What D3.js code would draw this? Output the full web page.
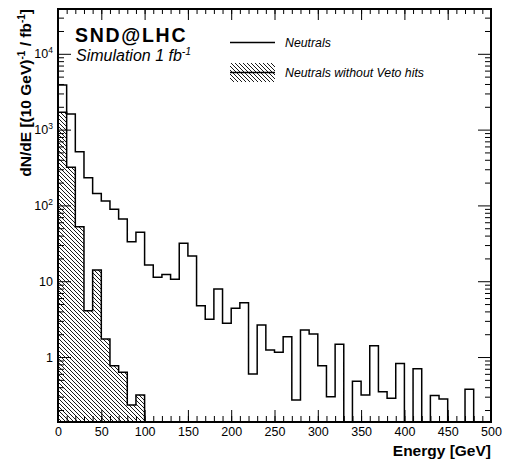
<!DOCTYPE html>
<html><head><meta charset="utf-8">
<script src="https://cdn.jsdelivr.net/npm/d3@7"></script>
<style>
html,body{margin:0;padding:0;background:#fff;}
svg{display:block;font-family:"Liberation Sans",Arial,Helvetica,sans-serif;}
</style></head>
<body>
<script>
// ---- data (10 GeV bins, 0..500 GeV) ----
const binEdgesStart = d3.range(0, 500, 10);
const neutrals = [3870,1607,511,232,144,114,89,66,33.2,44.2,
                  16.4,11.3,12.3,10.6,31.6,21.5,4.75,3.14,7.9,2.78,
                  4.39,5.2,0.597,2.64,1.24,1.16,1.85,0.271,2.27,2.01,
                  0.77,0.30,1.47,0,0.48,0.315,1.41,0.349,0.285,0.82,
                  0,0.70,0,0.31,0.279,0,0,0.375,0,0];
const neutralsNoVeto = [1690,318,52.4,4.08,14.1,1.73,0.77,0.63,0.233,0.315,
                  0,0,0,0,0,0,0,0,0,0, 0,0,0,0,0,0,0,0,0,0,
                  0,0,0,0,0,0,0,0,0,0, 0,0,0,0,0,0,0,0,0,0];
const xMajorTicks = [0,50,100,150,200,250,300,350,400,450,500];
const xMinorTicks = d3.range(0, 501, 10);
const yMajorTicks = [1,10,100,1000,10000];
const yTickLabels = [["1",""],["10",""],["10","2"],["10","3"],["10","4"]];
const legendLabels = ["Neutrals","Neutrals without Veto hits"];

const W = 506, H = 463;
const L = 58, R = 491, T = 9, B = 422;
const svg = d3.select("body").append("svg").attr("width", W).attr("height", H);

const x = d3.scaleLinear().domain([0, 500]).range([L, R]);
const y = d3.scaleLog().domain([0.139, 39000]).range([B, T]);

const defs = svg.append("defs");
const pat = defs.append("pattern").attr("id","hatch").attr("patternUnits","userSpaceOnUse")
  .attr("width",4).attr("height",4);
pat.append("path").attr("d","M-1,-1 L5,5 M3,-1 L5,1 M-1,3 L1,5")
  .attr("stroke","#000").attr("stroke-width",0.9);
defs.append("clipPath").attr("id","clip").append("rect")
  .attr("x",L).attr("y",T).attr("width",R-L).attr("height",B-T);

const yv = v => v > 0 ? y(v) : B + 5;
function stepPath(vals){
  let d = `M${x(0)},${B+5}`;
  vals.forEach((v,i)=>{
    const x0 = x(binEdgesStart[i]), x1 = x(binEdgesStart[i]+10);
    d += `L${x0},${yv(v)}L${x1},${yv(v)}`;
  });
  d += `L${x(500)},${B+5}`;
  return d;
}

const plot = svg.append("g").attr("clip-path","url(#clip)");
plot.append("path").attr("d", stepPath(neutralsNoVeto)+"Z")
  .attr("fill","url(#hatch)").attr("stroke","none");
plot.append("path").attr("d", stepPath(neutralsNoVeto))
  .attr("fill","none").attr("stroke","#000").attr("stroke-width",1.5);
plot.append("path").attr("d", stepPath(neutrals))
  .attr("fill","none").attr("stroke","#000").attr("stroke-width",1.5);

// axes
function styleAxis(g){
  g.select(".domain").remove();
  g.selectAll(".tick line").attr("stroke","#000").attr("stroke-width",1);
  g.selectAll("text").attr("font-size","12.5px").attr("fill","#000")
   .attr("font-family","Liberation Sans, Arial, sans-serif");
}
svg.append("g").attr("transform",`translate(0,${B})`)
  .call(d3.axisBottom(x).tickValues(xMinorTicks).tickSize(-6).tickFormat(""))
  .call(styleAxis);
svg.append("g").attr("transform",`translate(0,${B})`)
  .call(d3.axisBottom(x).tickValues(xMajorTicks).tickSize(-12).tickPadding(5).tickFormat(d3.format("d")))
  .call(styleAxis);
svg.append("g").attr("transform",`translate(0,${T})`)
  .call(d3.axisTop(x).tickValues(xMinorTicks).tickSize(-5).tickFormat(""))
  .call(styleAxis);
svg.append("g").attr("transform",`translate(0,${T})`)
  .call(d3.axisTop(x).tickValues(xMajorTicks).tickSize(-11).tickFormat(""))
  .call(styleAxis);

const yMinor = [];
for (let e=-1; e<=4; e++) for (let m=1; m<=9; m++){
  const v = m*Math.pow(10,e);
  if (v>=0.139 && v<=39000 && m!==1) yMinor.push(v);
}
svg.append("g").attr("transform",`translate(${L},0)`)
  .call(d3.axisLeft(y).tickValues(yMinor).tickSize(-6).tickFormat(""))
  .call(styleAxis);
svg.append("g").attr("transform",`translate(${L},0)`)
  .call(d3.axisLeft(y).tickValues(yMajorTicks).tickSize(-13).tickPadding(5).tickFormat(""))
  .call(styleAxis)
  .selectAll(".tick text").each(function(d,i){
    const t = d3.select(this);
    const lab = yTickLabels[i];
    t.append("tspan").text(lab[0]);
    if (lab[1]) t.append("tspan").attr("font-size","8.5px").attr("dy","-5").text(lab[1]);
  });
svg.append("g").attr("transform",`translate(${R},0)`)
  .call(d3.axisRight(y).tickValues(yMinor).tickSize(-6).tickFormat(""))
  .call(styleAxis);
svg.append("g").attr("transform",`translate(${R},0)`)
  .call(d3.axisRight(y).tickValues(yMajorTicks).tickSize(-13).tickFormat(""))
  .call(styleAxis);

// frame
svg.append("rect").attr("x",L).attr("y",T).attr("width",R-L).attr("height",B-T)
  .attr("fill","none").attr("stroke","#000").attr("stroke-width",2);

// axis titles
svg.append("text").attr("x",R).attr("y",456).attr("text-anchor","end")
  .attr("font-weight","bold").attr("font-size","15.5px").text("Energy [GeV]");
const yt = svg.append("text").attr("transform","translate(31,9) rotate(-90)")
  .attr("text-anchor","end").attr("font-weight","bold").attr("font-size","15.5px");
yt.append("tspan").text("dN/dE [(10 GeV)");
yt.append("tspan").attr("font-size","10px").attr("dy","-6").text("-1");
yt.append("tspan").attr("dy","6").text(" / fb");
yt.append("tspan").attr("font-size","10px").attr("dy","-6").text("-1");
yt.append("tspan").attr("dy","6").text("]");

// labels
svg.append("text").attr("x",75).attr("y",42).attr("font-weight","bold")
  .attr("font-size","19.5px").attr("letter-spacing","1.7px").text("SND@LHC");
const sim = svg.append("text").attr("x",76).attr("y",61).attr("font-style","italic").attr("font-size","16px");
sim.append("tspan").text("Simulation 1 fb");
sim.append("tspan").attr("font-size","10.5px").attr("dy","-6").text("-1");

// legend
svg.append("line").attr("x1",230).attr("x2",275).attr("y1",42.5).attr("y2",42.5)
  .attr("stroke","#000").attr("stroke-width",1.5);
svg.append("text").attr("x",285).attr("y",47).attr("font-style","italic")
  .attr("font-size","12.3px").text(legendLabels[0]);
svg.append("rect").attr("x",230).attr("y",63).attr("width",45).attr("height",19)
  .attr("fill","url(#hatch)");
svg.append("line").attr("x1",230).attr("x2",275).attr("y1",72.5).attr("y2",72.5)
  .attr("stroke","#000").attr("stroke-width",1.5);
svg.append("text").attr("x",285).attr("y",77).attr("font-style","italic")
  .attr("font-size","12.3px").text(legendLabels[1]);
</script>
</body></html>
